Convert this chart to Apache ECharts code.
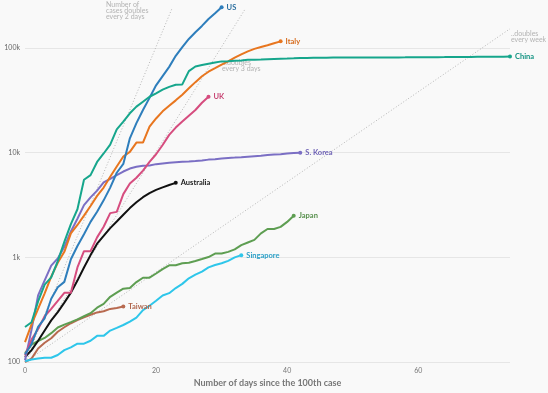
<!DOCTYPE html>
<html><head><meta charset="utf-8">
<script src="https://cdn.jsdelivr.net/npm/echarts@6/dist/echarts.min.js"></script>
<style>html,body{margin:0;padding:0;background:#f9f9f9;}#c{width:548px;height:393px;}</style>
</head><body><div id="c"></div>
<script>
// Cumulative confirmed cases, indexed by days since the 100th case
const chinaCases = [216,240,380,548,643,920,1406,2075,2877,5509,6087,8141,9802,11891,16630,19716,23707,27440,30587,34110,36814,39829,42354,44386,44759,59895,66358,68413,70513,72434,74211,74619,75077,75550,77001,77022,77241,77754,78166,78600,78928,79356,79932,80136,80261,80386,80537,80690,80770,80823,80860,80887,80921,80932,80945,80977,81003,81033,81058,81102,81156,81250,81305,81435,81498,81591,81661,81782,81897,81999,82122,82198,82279,82361,82432];
const usCases = [118,149,217,262,402,518,583,959,1281,1663,2179,2727,3499,4632,6421,7786,13680,19101,25493,33276,43847,53740,65778,83836,101657,121478,140886,161807,188172,213372,243762];
const italyCases = [155,229,322,453,655,888,1128,1694,2036,2502,3089,3858,4636,5883,7375,9172,10149,12462,12462,17660,21157,24747,27980,31506,35713,41035,47021,53578,59138,63927,69176,74386,80589,86498,92472,97689,101739,105792,110574,115242];
const ukCases = [116,164,207,274,322,384,459,459,802,1144,1145,1551,1960,2642,2716,4014,5067,5745,6726,8164,9640,11812,14745,17312,19780,22453,25481,29865,34173];
const koreaCases = [104,204,433,602,833,977,1261,1766,2337,3150,3736,4335,5186,5621,6088,6593,7041,7314,7478,7513,7755,7869,7979,8086,8162,8236,8320,8413,8565,8652,8799,8897,8961,9037,9137,9241,9332,9478,9583,9661,9786,9887,9976];
const australiaCases = [112,130,160,200,250,300,370,460,600,800,1050,1350,1600,1900,2200,2550,2950,3350,3750,4100,4400,4650,4900,5140];
const japanCases = [122,147,159,170,189,214,228,241,256,274,293,331,360,420,461,502,511,581,639,639,701,773,839,839,878,889,924,963,1007,1086,1086,1128,1193,1307,1387,1468,1693,1866,1866,1953,2178,2495];
const singaporeCases = [102,106,108,110,110,117,130,138,150,150,160,178,178,200,212,226,243,266,313,345,385,432,455,509,558,631,683,732,802,844,879,926,1000,1049];
const taiwanCases = [100,108,135,153,169,195,215,235,252,267,283,298,306,322,329,339];

// Guide lines: [day, cases] endpoints
const ref2Days = [[0,100],[22.4,235000]];
const ref3Days = [[0,100],[33.6,235000]];
const refWeek = [[0,100],[74,152000]];

const xTicks = [0,20,40,60];
const yTickLabels = {100:'100',1000:'1k',10000:'10k',100000:'100k'};

const FONT = 'Lato, "Open Sans", sans-serif';

function mk(name, values, color, labelColor, z) {
  const data = values.map((v,i)=>[i,v]);
  const last = data.length-1;
  data[last] = {
    value: data[last], symbol:'circle', symbolSize:4,
    label:{show:true, position:'right', distance:3, formatter:name, color:labelColor,
      fontWeight:'bold', fontSize:7.5, fontFamily:FONT}
  };
  return {type:'line', name, data, symbol:'none', z:z||2, silent:true,
    lineStyle:{color, width:2}, itemStyle:{color}, emphasis:{disabled:true}};
}
function ref(data) {
  return {type:'line', data, symbol:'none', silent:true, z:1,
    lineStyle:{color:'#b5b5b5', width:1, type:[1,2]}};
}

const chart = echarts.init(document.getElementById('c'), null, {renderer:'canvas'});
chart.setOption({
  animation:false,
  backgroundColor:'#f9f9f9',
  grid:{left:25, right:38, top:0, bottom:30, containLabel:false},
  xAxis:{type:'value', min:0, max:74, interval:20,
    axisLine:{show:false}, axisTick:{show:false}, splitLine:{show:false},
    axisLabel:{color:'#777', fontSize:7, margin:5, showMaxLabel:false, fontFamily:FONT,
      formatter:v=> xTicks.includes(v) ? String(v) : ''},
    name:'Number of days since the 100th case', nameLocation:'middle', nameGap:16,
    nameTextStyle:{color:'#777', fontSize:9, fontWeight:'bold', fontFamily:FONT}},
  yAxis:{type:'log', logBase:10, min:100, max:286000,
    axisLine:{show:false}, axisTick:{show:false},
    splitLine:{show:true, showMaxLine:false, lineStyle:{color:'#e6e6e6', width:1}},
    axisLabel:{color:'#666', fontSize:7, margin:5, showMaxLabel:false, fontFamily:FONT,
      formatter:v=> yTickLabels[Math.round(v)] || ''}},
  graphic:[
    {type:'text', left:106, top:1, silent:true, style:{text:'Number of\ncases doubles\nevery 2 days', fill:'#b3b3b3', font:'7px '+FONT, align:'center', lineHeight:6.3}},
    {type:'text', left:222, top:59, silent:true, style:{text:'...doubles\nevery 3 days', fill:'#b3b3b3', font:'7px '+FONT, align:'center', lineHeight:6.3}},
    {type:'text', left:511, top:30, silent:true, style:{text:'..doubles\nevery week', fill:'#b3b3b3', font:'7px '+FONT, align:'center', lineHeight:6.3}}
  ],
  series:[
    ref(ref2Days), ref(ref3Days), ref(refWeek),
    mk('Taiwan', taiwanCases, '#b86a50', '#b0664d'),
    mk('Singapore', singaporeCases, '#2ec6ea', '#2a9fc6'),
    mk('Japan', japanCases, '#5e9e52', '#568f4b'),
    mk('Australia', australiaCases, '#111111', '#1a1a1a'),
    mk('S. Korea', koreaCases, '#7b6fc4', '#6f63b6'),
    mk('UK', ukCases, '#d64d7f', '#c84574'),
    mk('Italy', italyCases, '#e8761f', '#d66a1a'),
    mk('US', usCases, '#2e7ebc', '#2a6e9f'),
    mk('China', chinaCases, '#16a68c', '#139382')
  ]
});
</script>
</body></html>
